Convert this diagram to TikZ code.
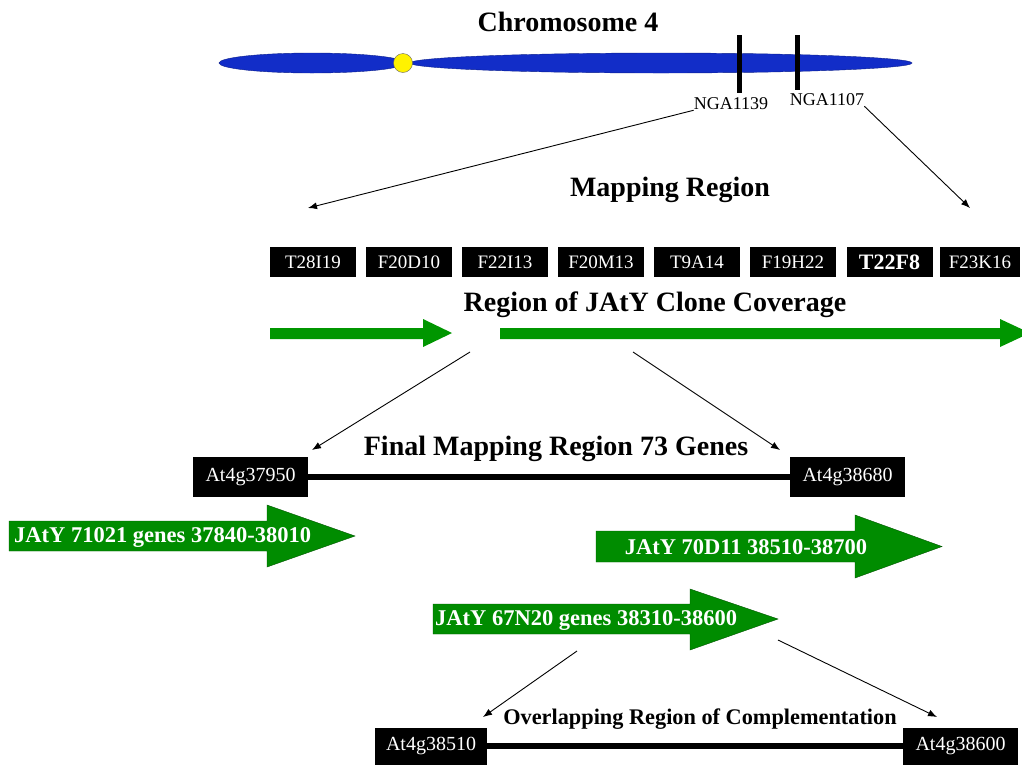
\documentclass[tikz,border=0pt]{standalone}
\usepackage{fontspec}
\setmainfont{Liberation Serif}
\usetikzlibrary{arrows.meta}
\definecolor{chromblue}{RGB}{18,45,200}
\definecolor{clonegreen}{RGB}{0,150,0}
\definecolor{yacgreen}{RGB}{0,140,0}
\definecolor{yacedge}{RGB}{0,85,0}
\tikzset{
  heading/.style={font=\bfseries\fontsize{28}{30}\selectfont,inner sep=0pt},
  marker/.style={font=\fontsize{18}{20}\selectfont,inner sep=0pt},
  bac/.style={fill=black,text=white,minimum width=86pt,minimum height=30pt,
    inner sep=0pt,font=\fontsize{19}{20}\selectfont},
  locus/.style={fill=black,text=white,minimum width=115pt,minimum height=40pt,
    inner sep=0pt,font=\fontsize{20}{22}\selectfont},
  yac/.style={text=white,font=\bfseries\fontsize{22.5}{24}\selectfont,inner sep=0pt},
  pointer/.style={-{Latex[length=9pt,width=7pt]},line width=0.9pt}
}

\begin{document}
\begin{tikzpicture}[x=1pt,y=-1pt]
\useasboundingbox (0,0) rectangle (1022,764);
\clip (0,0) rectangle (1022,764);
% chromosome
\node[heading] (chr) at (568,22) {Chromosome 4};
\filldraw[fill=chromblue,draw=chromblue!70!black] (312,63) ellipse [x radius=93pt,y radius=10pt];
\filldraw[fill=chromblue,draw=chromblue!70!black] (661,63) ellipse [x radius=251pt,y radius=10pt];
\filldraw[fill=yellow,draw=black!60] (403,63) circle [radius=9.5pt];
\draw[line width=5pt] (739,35)--(739,93) (797,35)--(797,90);
\node[marker] (m1) at (731,104) {NGA1139};
\node[marker] (m2) at (827,100) {NGA1107};
\coordinate (map1) at (308,208);
\coordinate (map2) at (970,208);
\draw[pointer] (m1.south west)--(map1);
\draw[pointer] (m2.south east)--(map2);

% BAC clones
\node[heading] (map) at (670,190) {Mapping Region};
\foreach \name [count=\i from 0] in {T28I19,F20D10,F22I13,F20M13,T9A14,F19H22}
  \node[bac] (bac\i) at (313+96*\i,262) {\name};
\node[bac,font=\bfseries\fontsize{22}{24}\selectfont] (bac6) at (889.5,262) {T22F8};
\node[bac,minimum width=80pt] (bac7) at (980,262) {F23K16};

% coverage
\node[heading] (cov) at (655,305) {Region of JAtY Clone Coverage};
\fill[clonegreen] (270,328)--(423,328)--(423,319)--(452,333)--(423,347)--(423,339)--(270,339)--cycle;
\fill[clonegreen] (500,328)--(1000,328)--(1000,319)--(1030,333)--(1000,347)--(1000,339)--(500,339)--cycle;
\coordinate (cov1) at (470,352);
\coordinate (cov2) at (633,352);
\coordinate (fin1) at (312,450);
\coordinate (fin2) at (780,450);
\draw[pointer] (cov1)--(fin1);
\draw[pointer] (cov2)--(fin2);

% final region
\node[heading] (fin) at (556,449) {Final Mapping Region 73 Genes};
\node[locus] (g1) at (250.5,477) {At4g37950};
\node[locus] (g2) at (847.5,477) {At4g38680};
\draw[line width=6pt] (g1)--(g2);

% YAC clones
\filldraw[fill=yacgreen,draw=yacedge] (9,521)--(267,521)--(267,505)--(355,536)--(267,567)--(267,551)--(9,551)--cycle;
\filldraw[fill=yacgreen,draw=yacedge] (596,531)--(855,531)--(855,515)--(942,546.5)--(855,578)--(855,562)--(596,562)--cycle;
\filldraw[fill=yacgreen,draw=yacedge] (433,604)--(690,604)--(690,589)--(778,619)--(690,650)--(690,634)--(433,634)--cycle;
\node[yac,anchor=west] (y1) at (14,537) {JAtY 71021 genes 37840-38010};
\node[yac] (y2) at (746,547) {JAtY 70D11 38510-38700};
\node[yac,anchor=west] (y3) at (435,620) {JAtY 67N20 genes 38310-38600};

% overlap
\coordinate (ov1) at (577,651);
\coordinate (ov2) at (778,640);
\coordinate (cmp1) at (483,717);
\coordinate (cmp2) at (937,717);
\draw[pointer] (ov1)--(cmp1);
\draw[pointer] (ov2)--(cmp2);
\node[heading,font=\bfseries\fontsize{22.3}{24}\selectfont] (cmp) at (700,719) {Overlapping Region of Complementation};
\node[locus,minimum width=112pt,minimum height=37pt] (o1) at (431,746) {At4g38510};
\node[locus,minimum height=37pt] (o2) at (960.5,746) {At4g38600};
\draw[line width=6pt] (o1)--(o2);
\end{tikzpicture}
\end{document}
